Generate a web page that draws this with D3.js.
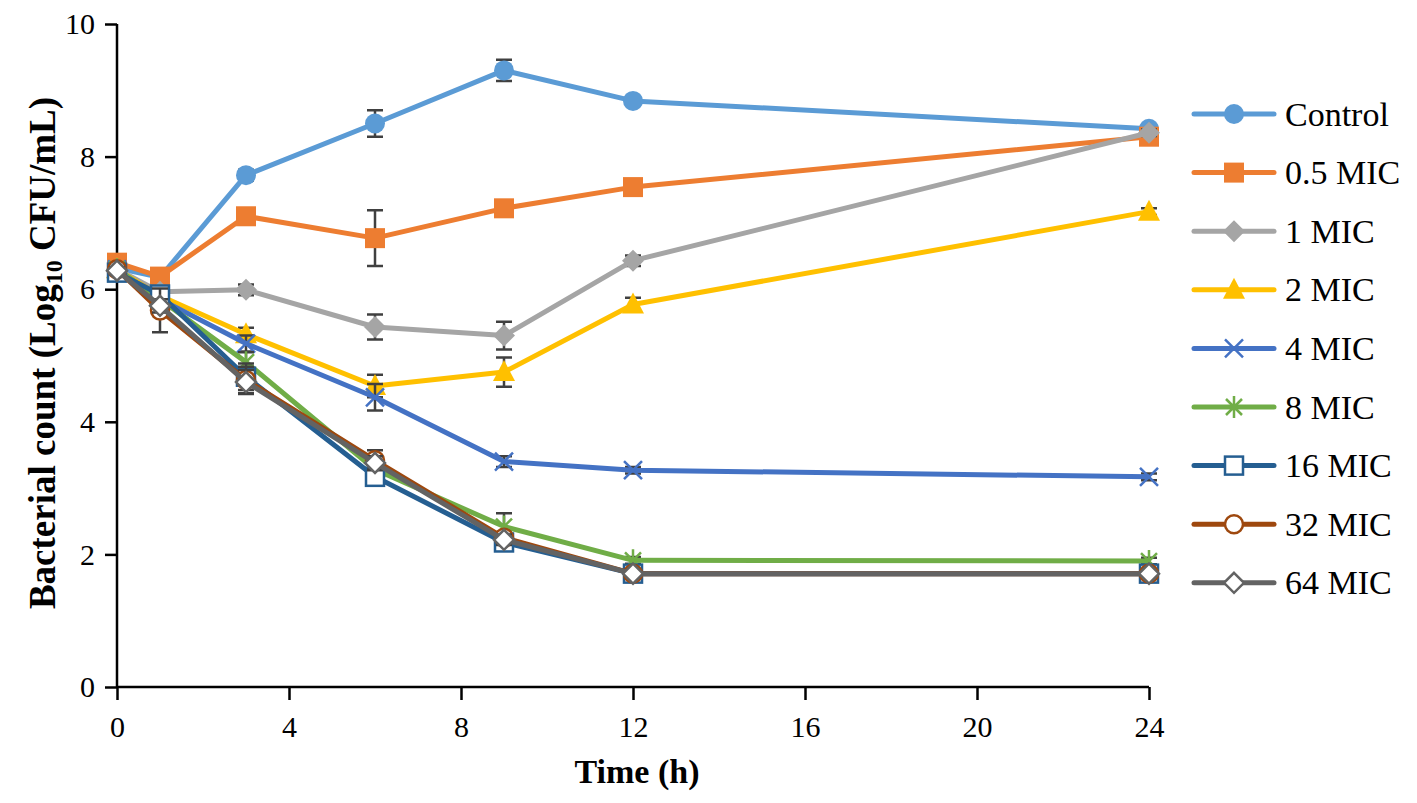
<!DOCTYPE html>
<html>
<head>
<meta charset="utf-8">
<script src="https://cdn.jsdelivr.net/npm/d3@7"></script>
<style>
  body { margin: 0; background: #fff; }
  text { font-family: "Liberation Serif", "Times New Roman", serif; }
</style>
</head>
<body>
<svg id="chart" width="1417" height="803"></svg>
<script>
// time points (h)
const times = [0, 1, 3, 6, 9, 12, 24];

const seriesNames = ['Control', '0.5 MIC', '1 MIC', '2 MIC', '4 MIC', '8 MIC', '16 MIC', '32 MIC', '64 MIC'];
const seriesColors = ['#5B9BD5', '#ED7D31', '#A5A5A5', '#FFC000', '#4472C4', '#70AD47', '#255E91', '#9E480E', '#636363'];
const seriesMarkers = ['circle', 'square', 'diamond', 'triangle', 'cross', 'star', 'squareOpen', 'circleOpen', 'diamondOpen'];

// log10 CFU/mL
const controlVals = [6.32, 6.18, 7.72, 8.50, 9.30, 8.84, 8.42];
const mic05Vals = [6.40, 6.19, 7.10, 6.77, 7.22, 7.54, 8.30];
const mic1Vals = [6.30, 5.96, 5.99, 5.43, 5.30, 6.43, 8.36];
const mic2Vals = [6.30, 5.90, 5.32, 4.54, 4.75, 5.77, 7.17];
const mic4Vals = [6.30, 5.85, 5.18, 4.37, 3.40, 3.27, 3.17];
const mic8Vals = [6.30, 5.85, 4.90, 3.28, 2.42, 1.91, 1.90];
const mic16Vals = [6.25, 5.92, 4.68, 3.17, 2.18, 1.71, 1.71];
const mic32Vals = [6.30, 5.68, 4.63, 3.42, 2.25, 1.71, 1.71];
const mic64Vals = [6.28, 5.75, 4.60, 3.38, 2.22, 1.71, 1.71];

// standard deviations
const controlErr = [0.05, 0.05, 0.08, 0.20, 0.16, 0.06, 0.05];
const mic05Err = [0.05, 0.05, 0.08, 0.42, 0.06, 0.05, 0.05];
const mic1Err = [0.05, 0.05, 0.08, 0.19, 0.21, 0.08, 0.05];
const mic2Err = [0.05, 0.05, 0.10, 0.17, 0.22, 0.10, 0.05];
const mic4Err = [0.05, 0.10, 0.12, 0.20, 0.08, 0.05, 0.05];
const mic8Err = [0.05, 0.10, 0.15, 0.12, 0.20, 0.05, 0.05];
const mic16Err = [0.05, 0.10, 0.20, 0.10, 0.08, 0.02, 0.02];
const mic32Err = [0.05, 0.33, 0.20, 0.15, 0.08, 0.02, 0.02];
const mic64Err = [0.05, 0.10, 0.18, 0.10, 0.08, 0.02, 0.02];

const allVals = [controlVals, mic05Vals, mic1Vals, mic2Vals, mic4Vals, mic8Vals, mic16Vals, mic32Vals, mic64Vals];
const allErr = [controlErr, mic05Err, mic1Err, mic2Err, mic4Err, mic8Err, mic16Err, mic32Err, mic64Err];

const xTicks = [0, 4, 8, 12, 16, 20, 24];
const yTicks = [0, 2, 4, 6, 8, 10];

const svg = d3.select('#chart');
const margin = { left: 117, right: 268, top: 24, bottom: 116 };
const width = 1417, height = 803;

const x = d3.scaleLinear().domain([0, 24]).range([margin.left, width - margin.right]);
const y = d3.scaleLinear().domain([0, 10]).range([height - margin.bottom, margin.top]);

// axes
const yAxis = svg.append('g')
  .attr('transform', `translate(${margin.left},0)`)
  .call(d3.axisLeft(y).tickValues(yTicks).tickSize(12).tickPadding(10));
const xAxis = svg.append('g')
  .attr('transform', `translate(0,${y(0)})`)
  .call(d3.axisBottom(x).tickValues(xTicks).tickSize(13).tickPadding(16));

[yAxis, xAxis].forEach((ax) => {
  ax.attr('font-family', '"Liberation Serif", serif').attr('font-size', 30);
  ax.select('.domain').attr('stroke', '#000').attr('stroke-width', 2.5);
  ax.selectAll('.tick line').attr('stroke', '#000').attr('stroke-width', 2.5);
  ax.selectAll('.tick text').attr('fill', '#000');
});
xAxis.select('.domain').attr('d', `M${x(0)},0H${x(24)}`);
yAxis.select('.domain').attr('d', `M0,${y(10)}V${y(0)}`);

// axis titles
svg.append('text')
  .attr('x', 637)
  .attr('y', 783)
  .attr('text-anchor', 'middle')
  .style('font-size', '34px')
  .style('font-weight', 'bold')
  .text('Time (h)');

const yTitle = svg.append('text')
  .attr('transform', `translate(55,353) rotate(-90)`)
  .attr('text-anchor', 'middle')
  .style('font-size', '37px')
  .style('font-weight', 'bold');
yTitle.append('tspan').text('Bacterial count (Log');
yTitle.append('tspan').attr('baseline-shift', '-30%').style('font-size', '24px').text('10');
yTitle.append('tspan').text(' CFU/mL)');

// marker drawing
function drawMarker(g, type, color, cx, cy) {
  const s = 10;
  switch (type) {
    case 'circle':
      g.append('circle').attr('cx', cx).attr('cy', cy).attr('r', s).attr('fill', color);
      break;
    case 'square':
      g.append('rect').attr('x', cx - s).attr('y', cy - s).attr('width', 2 * s).attr('height', 2 * s).attr('fill', color);
      break;
    case 'diamond':
      g.append('path').attr('d', `M${cx},${cy - s - 1}L${cx + s + 1},${cy}L${cx},${cy + s + 1}L${cx - s - 1},${cy}Z`).attr('fill', color);
      break;
    case 'triangle':
      g.append('path').attr('d', `M${cx},${cy - s - 2}L${cx + s + 1},${cy + s - 1}L${cx - s - 1},${cy + s - 1}Z`).attr('fill', color);
      break;
    case 'cross':
      g.append('path').attr('d', `M${cx - 9},${cy - 9}L${cx + 9},${cy + 9}M${cx - 9},${cy + 9}L${cx + 9},${cy - 9}`)
        .attr('stroke', color).attr('stroke-width', 2.5).attr('fill', 'none');
      break;
    case 'star':
      g.append('path').attr('d', `M${cx - 8},${cy - 8}L${cx + 8},${cy + 8}M${cx - 8},${cy + 8}L${cx + 8},${cy - 8}M${cx},${cy - 11}L${cx},${cy + 11}`)
        .attr('stroke', color).attr('stroke-width', 2.5).attr('fill', 'none');
      break;
    case 'squareOpen':
      g.append('rect').attr('x', cx - 9).attr('y', cy - 9).attr('width', 18).attr('height', 18)
        .attr('fill', '#fff').attr('stroke', color).attr('stroke-width', 2.5);
      break;
    case 'circleOpen':
      g.append('circle').attr('cx', cx).attr('cy', cy).attr('r', 9)
        .attr('fill', '#fff').attr('stroke', color).attr('stroke-width', 2.5);
      break;
    case 'diamondOpen':
      g.append('path').attr('d', `M${cx},${cy - 10}L${cx + 10},${cy}L${cx},${cy + 10}L${cx - 10},${cy}Z`)
        .attr('fill', '#fff').attr('stroke', color).attr('stroke-width', 2.5);
      break;
  }
}

const line = d3.line().x((d) => x(d.t)).y((d) => y(d.v));
const plot = svg.append('g');

seriesNames.forEach((name, i) => {
  const data = times.map((t, j) => ({ t, v: allVals[i][j], e: allErr[i][j] }));
  const g = plot.append('g').attr('class', 'series');

  // error bars
  data.forEach((d) => {
    const cx = x(d.t), y1 = y(d.v + d.e), y2 = y(d.v - d.e);
    g.append('path')
      .attr('d', `M${cx},${y1}V${y2}M${cx - 8},${y1}H${cx + 8}M${cx - 8},${y2}H${cx + 8}`)
      .attr('stroke', '#404040')
      .attr('stroke-width', 2.5)
      .attr('fill', 'none');
  });

  g.append('path')
    .datum(data)
    .attr('d', line)
    .attr('fill', 'none')
    .attr('stroke', seriesColors[i])
    .attr('stroke-width', 5)
    .attr('stroke-linejoin', 'round');

  data.forEach((d) => drawMarker(g, seriesMarkers[i], seriesColors[i], x(d.t), y(d.v)));
});

// legend
const legend = svg.append('g').attr('transform', 'translate(1194,114)');
seriesNames.forEach((name, i) => {
  const row = legend.append('g').attr('transform', `translate(0,${i * 58.6})`);
  row.append('line')
    .attr('x1', 0).attr('x2', 80).attr('y1', 0).attr('y2', 0)
    .attr('stroke', seriesColors[i]).attr('stroke-width', 5).attr('stroke-linecap', 'round');
  drawMarker(row, seriesMarkers[i], seriesColors[i], 40, 0);
  row.append('text')
    .attr('x', 91)
    .attr('y', 0)
    .attr('dy', '0.34em')
    .style('font-size', '34px')
    .text(name);
});
</script>
</body>
</html>
